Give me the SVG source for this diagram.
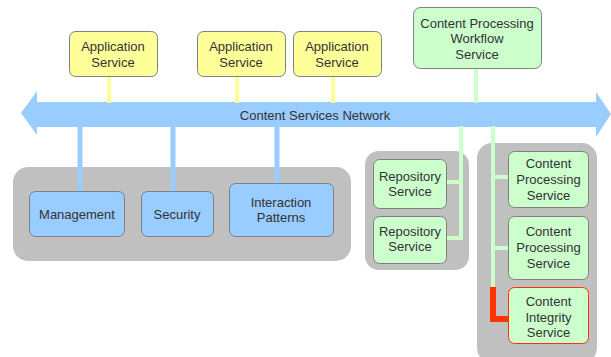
<svg xmlns="http://www.w3.org/2000/svg" width="611" height="357" viewBox="0 0 611 357">
<style>
text{font-family:"Liberation Sans",Arial,sans-serif;font-size:13px;fill:#333333;text-anchor:middle}
.box{stroke:#808080;stroke-width:1}
.app{fill:#FFFF99}
.grn{fill:#CCFFCC}
.blu{fill:#99CCFF}
.cont{fill:#C0C0C0}
.ly{stroke:#FFFF99;stroke-width:4;fill:none}
.lg{stroke:#CCFFCC;stroke-width:4;fill:none}
.lb{stroke:#99CCFF;stroke-width:5;fill:none}
.lr{stroke:#FF3300;stroke-width:6;fill:none}
</style>
<rect width="611" height="357" fill="#ffffff"/>
<g id="containers">
<rect id="core-group" class="cont" x="13" y="167" width="338" height="94" rx="15"/>
<rect id="repo-group" class="cont" x="365" y="151" width="104" height="119" rx="14"/>
<rect id="proc-group" class="cont" x="477" y="143" width="120" height="220" rx="15"/>
</g>
<g id="network">
<polygon fill="#99CCFF" points="21,113 37,91 37,102 596,102 596,92 611,114 596,137 596,127 37,127 37,135"/>
<text x="315" y="119.5">Content Services Network</text>
</g>
<g id="connectors">
<line class="ly" x1="109" y1="76" x2="109" y2="103"/>
<line class="ly" x1="237" y1="76" x2="237" y2="103"/>
<line class="ly" x1="333" y1="76" x2="333" y2="103"/>
<line class="lg" x1="476" y1="68" x2="476" y2="103"/>
<line class="lb" x1="80" y1="126" x2="80" y2="192"/>
<line class="lb" x1="173" y1="126" x2="173" y2="192"/>
<line class="lb" x1="277" y1="126" x2="277" y2="184"/>
<polyline class="lg" points="461,126 461,238 446,238"/>
<line class="lg" x1="446" y1="182" x2="461" y2="182"/>
<line class="lg" x1="493" y1="126" x2="493" y2="288"/>
<line class="lg" x1="493" y1="177" x2="509" y2="177"/>
<line class="lg" x1="493" y1="248" x2="509" y2="248"/>
<polyline class="lr" points="493,287 493,319 509,319"/>
</g>
<g id="app1"><rect class="box app" x="69.5" y="31.5" width="88" height="45" rx="6"/><text x="113" y="50.5">Application</text><text x="113" y="66.5">Service</text></g>
<g id="app2"><rect class="box app" x="197.5" y="31.5" width="88" height="45" rx="6"/><text x="241" y="50.5">Application</text><text x="241" y="66.5">Service</text></g>
<g id="app3"><rect class="box app" x="293.5" y="31.5" width="88" height="45" rx="6"/><text x="337" y="50.5">Application</text><text x="337" y="66.5">Service</text></g>
<g id="cpws"><rect class="box grn" x="413.5" y="7.5" width="128" height="61" rx="7"/><text x="477" y="27.5">Content Processing</text><text x="477" y="43">Workflow</text><text x="477" y="58.5">Service</text></g>
<g id="management"><rect class="box blu" x="29.5" y="191.5" width="95" height="45" rx="6"/><text x="77" y="218.5">Management</text></g>
<g id="security"><rect class="box blu" x="141.5" y="191.5" width="72" height="45" rx="6"/><text x="177" y="218.5">Security</text></g>
<g id="interaction"><rect class="box blu" x="229.5" y="183.5" width="104" height="53" rx="6"/><text x="281" y="206.5">Interaction</text><text x="281" y="221.5">Patterns</text></g>
<g id="repo1"><rect class="box grn" x="373.5" y="159.5" width="73" height="49" rx="6"/><text x="410" y="180.5">Repository</text><text x="410" y="195.5">Service</text></g>
<g id="repo2"><rect class="box grn" x="373.5" y="216.5" width="73" height="47" rx="6"/><text x="410" y="235.5">Repository</text><text x="410" y="251">Service</text></g>
<g id="cps1"><rect class="box grn" x="508.5" y="151.5" width="80" height="56" rx="6"/><text x="548.5" y="167.5">Content</text><text x="548.5" y="183.5">Processing</text><text x="548.5" y="199.5">Service</text></g>
<g id="cps2"><rect class="box grn" x="508.5" y="216.5" width="80" height="63" rx="6"/><text x="548.5" y="235.5">Content</text><text x="548.5" y="251.5">Processing</text><text x="548.5" y="267.5">Service</text></g>
<g id="cis"><rect class="grn" x="508.5" y="287.5" width="80" height="56" rx="6" stroke="#FF3300" stroke-width="1"/><text x="548.5" y="305.5">Content</text><text x="548.5" y="321.5">Integrity</text><text x="548.5" y="336.5">Service</text></g>
</svg>
